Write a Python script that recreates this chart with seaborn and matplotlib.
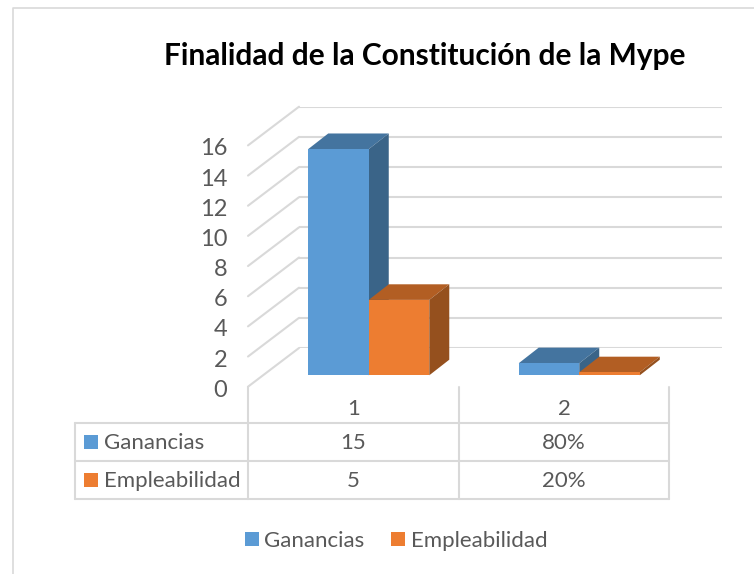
import matplotlib
matplotlib.use('Agg')
import matplotlib.pyplot as plt
from matplotlib.patches import ConnectionPatch, Polygon, Rectangle
from matplotlib.transforms import ScaledTranslation
import pandas as pd
import seaborn as sns

title = 'Finalidad de la Constitución de la Mype'
categories = ['1', '2']
series_names = ['Ganancias', 'Empleabilidad']
ganancias = [15, 0.8]
empleabilidad = [5, 0.2]
table_ganancias = ['15', '80%']
table_empleabilidad = ['5', '20%']
y_ticks = [0, 2, 4, 6, 8, 10, 12, 14, 16]

BLUE = '#5B9BD5'
ORANGE = '#ED7D31'
shades = {BLUE: ('#44749F', '#3A6488'), ORANGE: ('#B25E23', '#95501E')}
GRID = '#D9D9D9'
TEXT = '#595959'
W, H = 754, 574

sns.set_theme(style='white')
plt.rcParams['font.family'] = ['Lato', 'DejaVu Sans']

fig = plt.figure(figsize=(W / 100, H / 100), dpi=100)


def px_axes(left, right, top, bottom, **kw):
    # axes placed with image pixel edges
    return fig.add_axes([left / W, 1 - bottom / H, (right - left) / W, (bottom - top) / H], **kw)


# whole figure overlay for the frame and the table lines
page = px_axes(0, W, 0, H, zorder=0)
page.set_xlim(0, W)
page.set_ylim(H, 0)
page.axis('off')
page.plot([13, 13, W], [H, 8, 8], color=GRID, lw=1.2)

# table
col_x = [75, 248, 459, 669]
row_y = [423, 461, 499]
for y in row_y:
    page.plot([col_x[0], col_x[-1]], [y, y], color=GRID, lw=1.5)
page.plot([col_x[0], col_x[0]], [row_y[0], row_y[-1]], color=GRID, lw=1.5)
for x in col_x[1:]:
    page.plot([x, x], [387, row_y[-1]], color=GRID, lw=1.5)
for i, cat in enumerate(categories):
    page.text((col_x[i + 1] + col_x[i + 2]) / 2, 409, cat, color=TEXT, fontsize=16, ha='center', va='center')
rows = [table_ganancias, table_empleabilidad]
for r, (name, color) in enumerate(zip(series_names, [BLUE, ORANGE])):
    yc = (row_y[r] + row_y[r + 1]) / 2
    page.add_patch(Rectangle((84, yc - 7), 14, 14, color=color, lw=0))
    page.text(104, yc + 1, name, color=TEXT, fontsize=16, ha='left', va='center')
    for i, val in enumerate(rows[r]):
        page.text((col_x[i + 1] + col_x[i + 2]) / 2, yc + 1, val, color=TEXT, fontsize=16, ha='center', va='center')

# front wall carries the tick labels
front = px_axes(248, 299, 145.4, 386.7, zorder=1)
front.set_ylim(0, 16)
front.set_xlim(0, 1)
sns.despine(ax=front, left=True, bottom=True, right=True, top=True)
front.patch.set_visible(False)
front.set_xticks([])
front.set_yticks(y_ticks)
front.tick_params(axis='y', length=0, pad=15, labelsize=17, labelcolor=TEXT)
for label in front.get_yticklabels():
    label.set_transform(label.get_transform() + ScaledTranslation(0, -1.5 / 100, fig.dpi_scale_trans))

# back wall gridlines
back = px_axes(299, 722, 106.7, 348, zorder=1)
back.set_ylim(0, 16)
back.set_xlim(0, 1)
back.axis('off')
for v in y_ticks:
    back.axhline(v, color=GRID, lw=1.5)
    fig.add_artist(ConnectionPatch((0, v), (0, v), coordsA=front.transData, coordsB=back.transData,
                                   color=GRID, lw=1.5))

# bars
df = pd.DataFrame({
    'categoria': categories * 2,
    'serie': [series_names[0]] * 2 + [series_names[1]] * 2,
    'valor': ganancias + empleabilidad,
})
ax = px_axes(263.5, 684.5, 134, 375.3, zorder=2)
sns.barplot(data=df, x='categoria', y='valor', hue='serie', hue_order=series_names,
            palette=[BLUE, ORANGE], width=0.575, saturation=1, legend=False, linewidth=0, ax=ax)
ax.set_xlim(-0.5, 1.5)
ax.set_ylim(0, 16)
ax.axis('off')

depth_x = 20 / 210.5
depth_y = 15.6 / 15.08
z = 3
for container, color in zip(ax.containers, [BLUE, ORANGE]):
    top_color, side_color = shades[color]
    for bar in container:
        x0, w, h = bar.get_x(), bar.get_width(), bar.get_height()
        ax.add_patch(Polygon([(x0, h), (x0 + w, h), (x0 + w + depth_x, h + depth_y), (x0 + depth_x, h + depth_y)],
                             color=top_color, lw=0, zorder=z, clip_on=False))
        ax.add_patch(Polygon([(x0 + w, 0), (x0 + w + depth_x, depth_y), (x0 + w + depth_x, h + depth_y), (x0 + w, h)],
                             color=side_color, lw=0, zorder=z, clip_on=False))
        bar.set_zorder(z + 0.5)
    z += 1

# legend at the bottom
handles = [Rectangle((0, 0), 1, 1, color=c, lw=0) for c in [BLUE, ORANGE]]
fig.legend(handles, series_names, loc='center', bbox_to_anchor=(396 / W, 1 - 541 / H), ncol=2, frameon=False,
           fontsize=16, labelcolor=TEXT, handlelength=0.63, handleheight=0.63, handletextpad=0.25, columnspacing=1.2)

fig.text(425 / W, 1 - 56 / H, title, color='black', fontsize=21.5, fontweight='bold', ha='center', va='center')

fig.savefig('out.png', dpi=100)
